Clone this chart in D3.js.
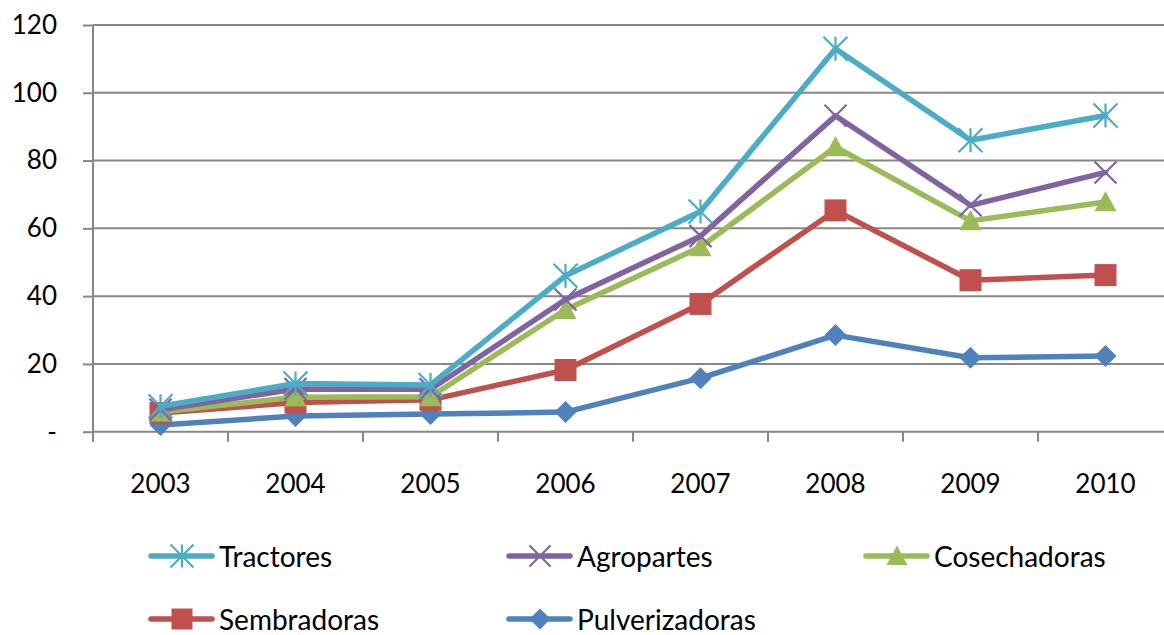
<!DOCTYPE html>
<html>
<head>
<meta charset="utf-8">
<script src="https://cdn.jsdelivr.net/npm/d3@7"></script>
<style>
  html, body { margin: 0; padding: 0; background: #fff; overflow: hidden; }
  svg { display: block; font-family: Lato, "Open Sans", sans-serif; }
</style>
</head>
<body>
<svg id="chart" width="1164" height="635"></svg>
<script>
const years = ["2003", "2004", "2005", "2006", "2007", "2008", "2009", "2010"];
const yTicks = [0, 20, 40, 60, 80, 100, 120];

const tractores      = [7.5, 14.2, 13.8, 46, 65, 113, 86, 93.3];
const agropartes     = [6.5, 12.6, 12.5, 39, 57.7, 93.2, 66.8, 76.5];
const cosechadoras   = [5.8, 10.2, 10.3, 36, 54.5, 84, 62.2, 67.8];
const sembradoras    = [5.5, 8.6, 9.4, 18.2, 37.7, 65.3, 44.7, 46.2];
const pulverizadoras = [2.0, 4.6, 5.2, 5.8, 15.8, 28.5, 21.8, 22.3];

const series = [
  { name: "Pulverizadoras", values: pulverizadoras, color: "#4F81BD", marker: "diamond" },
  { name: "Sembradoras",    values: sembradoras,    color: "#C0504D", marker: "square" },
  { name: "Cosechadoras",   values: cosechadoras,   color: "#9BBB59", marker: "triangle" },
  { name: "Agropartes",     values: agropartes,     color: "#8064A2", marker: "x" },
  { name: "Tractores",      values: tractores,      color: "#4BACC6", marker: "star" }
];
const legendOrder = ["Tractores", "Agropartes", "Cosechadoras", "Sembradoras", "Pulverizadoras"];

const svg = d3.select("#chart");
const plotLeft = 93, plotRight = 1173, plotTop = 25, plotBottom = 431.7;

const x = d3.scaleBand().domain(years).range([plotLeft, plotRight]);
const y = d3.scaleLinear().domain([0, 120]).range([plotBottom, plotTop]);
const grid = "#878787";

// horizontal gridlines
svg.append("g").selectAll("line").data(yTicks.filter(d => d > 0)).join("line")
  .attr("x1", plotLeft).attr("x2", plotRight)
  .attr("y1", d => y(d)).attr("y2", d => y(d))
  .attr("stroke", grid).attr("stroke-width", 2);

// y axis
const yAxis = svg.append("g").attr("transform", `translate(${plotLeft},0)`)
  .call(d3.axisLeft(y).tickValues(yTicks).tickSize(10).tickPadding(26)
    .tickFormat(d => d === 0 ? "-" : d));
yAxis.select(".domain").remove();
yAxis.selectAll(".tick line").attr("stroke", grid).attr("stroke-width", 2);
yAxis.selectAll("text").attr("font-size", 26).attr("fill", "#000")
  .attr("font-family", "Lato, sans-serif");
yAxis.append("line").attr("x1", 0).attr("x2", 0).attr("y1", plotTop).attr("y2", plotBottom + 10)
  .attr("stroke", grid).attr("stroke-width", 2);

// x axis
const xAxis = svg.append("g").attr("transform", `translate(0,${plotBottom})`)
  .call(d3.axisBottom(x).tickSize(0).tickPadding(43));
xAxis.select(".domain").attr("stroke", grid).attr("stroke-width", 2).attr("d", `M${plotLeft},0H${plotRight}`);
xAxis.selectAll("text").attr("font-size", 26).attr("fill", "#000")
  .attr("font-family", "Lato, sans-serif");
svg.append("g").selectAll("line").data(years.concat(["end"])).join("line")
  .attr("x1", (d, i) => plotLeft + i * x.step()).attr("x2", (d, i) => plotLeft + i * x.step())
  .attr("y1", plotBottom).attr("y2", plotBottom + 10)
  .attr("stroke", grid).attr("stroke-width", 2);

// markers
function drawMarker(g, type, color, cx, cy, s) {
  const h = s / 2;
  if (type === "diamond") {
    g.append("path").attr("d", `M${cx},${cy - h}L${cx + h},${cy}L${cx},${cy + h}L${cx - h},${cy}Z`)
      .attr("fill", color);
  } else if (type === "square") {
    g.append("rect").attr("x", cx - h).attr("y", cy - h).attr("width", s).attr("height", s)
      .attr("fill", color);
  } else if (type === "triangle") {
    g.append("path").attr("d", `M${cx},${cy - h}L${cx + h},${cy + h * 0.85}L${cx - h},${cy + h * 0.85}Z`)
      .attr("fill", color);
  } else if (type === "x") {
    g.append("path").attr("d", `M${cx - h},${cy - h}L${cx + h},${cy + h}M${cx - h},${cy + h}L${cx + h},${cy - h}`)
      .attr("stroke", color).attr("stroke-width", 2.2).attr("fill", "none");
  } else if (type === "star") {
    g.append("path").attr("d", `M${cx - h},${cy - h}L${cx + h},${cy + h}M${cx - h},${cy + h}L${cx + h},${cy - h}M${cx},${cy - h}L${cx},${cy + h}`)
      .attr("stroke", color).attr("stroke-width", 2.2).attr("fill", "none");
  }
}
const markerSize = { diamond: 22, square: 22, triangle: 22, x: 22, star: 24 };

const line = d3.line().x((d, i) => x(years[i]) + x.bandwidth() / 2).y(d => y(d));

series.forEach(s => {
  const g = svg.append("g");
  g.append("path").datum(s.values).attr("d", line)
    .attr("fill", "none").attr("stroke", s.color).attr("stroke-width", 5.5)
    .attr("stroke-linejoin", "round").attr("stroke-linecap", "round");
  s.values.forEach((v, i) => {
    drawMarker(g, s.marker, s.color, x(years[i]) + x.bandwidth() / 2, y(v), markerSize[s.marker]);
  });
});

// legend
const legendPos = [
  { lx: 151, ly: 556 }, { lx: 509, ly: 556 }, { lx: 866, ly: 556 },
  { lx: 151, ly: 619 }, { lx: 509, ly: 619 }
];
legendOrder.forEach((name, i) => {
  const s = series.find(d => d.name === name);
  const p = legendPos[i];
  const g = svg.append("g");
  g.append("line").attr("x1", p.lx).attr("x2", p.lx + 61).attr("y1", p.ly).attr("y2", p.ly)
    .attr("stroke", s.color).attr("stroke-width", 5.5).attr("stroke-linecap", "round");
  drawMarker(g, s.marker, s.color, p.lx + 31, p.ly, markerSize[s.marker] - 1);
  g.append("text").attr("x", p.lx + 68).attr("y", p.ly + 11)
    .attr("font-size", 28).attr("fill", "#000").text(name);
});
</script>
</body>
</html>
